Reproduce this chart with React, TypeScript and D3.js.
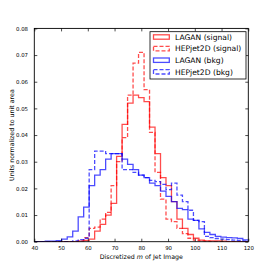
import { useRef, useEffect } from "react";
import * as d3 from "d3";

// 39 equal bins between 40 and 120
const binEdges = [
  40, 42.05, 44.1, 46.15, 48.21, 50.26, 52.31, 54.36, 56.41, 58.46, 60.51,
  62.56, 64.62, 66.67, 68.72, 70.77, 72.82, 74.87, 76.92, 78.97, 81.03, 83.08,
  85.13, 87.18, 89.23, 91.28, 93.33, 95.38, 97.44, 99.49, 101.54, 103.59,
  105.64, 107.69, 109.74, 111.79, 113.85, 115.9, 117.95, 120,
];

const laganSignal = [
  0, 0, 0, 0, 0, 0, 0, 0, 0.0002, 0.0005,
  0.001, 0.004, 0.0065, 0.01, 0.0144, 0.032, 0.044, 0.052, 0.055, 0.054,
  0.0525, 0.043, 0.033, 0.024, 0.021, 0.015, 0.0085, 0.005, 0.0027, 0.0013,
  0.0006, 0.0003, 0.0003, 0.0003, 0.0002, 0, 0, 0, 0,
];
const hepSignal = [
  0, 0, 0, 0, 0, 0, 0, 0, 0.0003, 0.0015,
  0.005, 0.0055, 0.0085, 0.011, 0.021, 0.03, 0.039, 0.055, 0.067, 0.071,
  0.057, 0.041, 0.026, 0.016, 0.0085, 0.0075, 0.005, 0.003, 0.0013, 0.0006,
  0.0003, 0.0002, 0, 0, 0, 0, 0, 0, 0,
];
const laganBkg = [
  0, 0, 0.0002, 0.0002, 0.0004, 0.001, 0.0018, 0.004, 0.0093, 0.013,
  0.021, 0.025, 0.027, 0.031, 0.033, 0.033, 0.031, 0.029, 0.027, 0.025,
  0.024, 0.022, 0.021, 0.019, 0.017, 0.015, 0.0125, 0.012, 0.0085, 0.008,
  0.0048, 0.0035, 0.0027, 0.002, 0.0017, 0.0015, 0.0014, 0.0012, 0.0007,
];
const hepBkg = [
  0, 0, 0, 0, 0, 0, 0, 0.0003, 0.0008, 0.0013,
  0.027, 0.034, 0.034, 0.033, 0.033, 0.033, 0.027, 0.027, 0.026, 0.025,
  0.024, 0.023, 0.0225, 0.0215, 0.0195, 0.022, 0.0175, 0.015, 0.0118, 0.008,
  0.0075, 0.002, 0.0015, 0.0012, 0.001, 0.0008, 0.0006, 0.0004, 0.0002,
];

const seriesNames = [
  "LAGAN (signal)",
  "HEPjet2D (signal)",
  "LAGAN (bkg)",
  "HEPjet2D (bkg)",
];
const xTicks = [40, 50, 60, 70, 80, 90, 100, 110, 120];
const yTicks = [0, 0.01, 0.02, 0.03, 0.04, 0.05, 0.06, 0.07, 0.08];

const W = 277;
const H = 277;
const FONT = "DejaVu Sans, sans-serif";

export default function App() {
  const ref = useRef<SVGSVGElement>(null);

  useEffect(() => {
    const svg = d3.select(ref.current);
    svg.selectAll("*").remove();

    const left = 34.3;
    const right = 248.3;
    const top = 28.4;
    const bottom = 241.7;

    const x = d3.scaleLinear().domain([40, 120]).range([left, right]);
    const y = d3.scaleLinear().domain([0, 0.08]).range([bottom, top]);

    svg.append("rect").attr("width", W).attr("height", H).attr("fill", "#fff");

    // histograms (step outlines)
    const series = [
      { values: laganSignal, color: "#ff0000", dash: null },
      { values: hepSignal, color: "#ff0000", dash: "4,2" },
      { values: laganBkg, color: "#0000ff", dash: null },
      { values: hepBkg, color: "#0000ff", dash: "4,2" },
    ];

    svg
      .append("clipPath")
      .attr("id", "plot-clip")
      .append("rect")
      .attr("x", left)
      .attr("y", top)
      .attr("width", right - left)
      .attr("height", bottom - top);

    const line = d3
      .line<[number, number]>()
      .x((d) => x(d[0]))
      .y((d) => y(d[1]));

    const plot = svg.append("g").attr("clip-path", "url(#plot-clip)");
    series.forEach((s) => {
      const pts: [number, number][] = [[binEdges[0], 0]];
      s.values.forEach((v, i) => {
        pts.push([binEdges[i], v]);
        pts.push([binEdges[i + 1], v]);
      });
      pts.push([binEdges[binEdges.length - 1], 0]);
      plot
        .append("path")
        .attr("d", line(pts))
        .attr("fill", "none")
        .attr("stroke", s.color)
        .attr("stroke-opacity", 0.7)
        .attr("stroke-width", 1.3)
        .attr("stroke-dasharray", s.dash);
    });

    // axes, ticks pointing inward
    const tickFont = (g: any) =>
      g
        .selectAll("text")
        .attr("font-family", FONT)
        .attr("font-size", 5.4)
        .attr("fill", "#000");
    const tidy = (g: any) => {
      g.select(".domain").remove();
      g.selectAll("line").attr("stroke", "#000").attr("stroke-width", 0.7);
    };

    svg
      .append("g")
      .attr("transform", `translate(0,${bottom})`)
      .call(
        d3.axisBottom(x).tickValues(xTicks).tickSize(-3).tickPadding(4).tickFormat(d3.format("d"))
      )
      .call(tidy)
      .call(tickFont);
    svg
      .append("g")
      .attr("transform", `translate(0,${top})`)
      .call(d3.axisTop(x).tickValues(xTicks).tickSize(-3).tickFormat(() => ""))
      .call(tidy);
    svg
      .append("g")
      .attr("transform", `translate(${left},0)`)
      .call(
        d3.axisLeft(y).tickValues(yTicks).tickSize(-3).tickPadding(6.3).tickFormat(d3.format(".2f"))
      )
      .call(tidy)
      .call(tickFont);
    svg
      .append("g")
      .attr("transform", `translate(${right},0)`)
      .call(d3.axisRight(y).tickValues(yTicks).tickSize(-3).tickFormat(() => ""))
      .call(tidy);

    svg
      .append("rect")
      .attr("x", left)
      .attr("y", top)
      .attr("width", right - left)
      .attr("height", bottom - top)
      .attr("fill", "none")
      .attr("stroke", "#000")
      .attr("stroke-width", 0.9);

    // axis titles
    const xl = svg
      .append("text")
      .attr("x", (left + right) / 2)
      .attr("y", 259)
      .attr("text-anchor", "middle")
      .attr("font-family", FONT)
      .attr("font-size", 6.3)
      .attr("fill", "#000");
    xl.append("tspan").text("Discretized ");
    xl.append("tspan").attr("font-style", "italic").text("m");
    xl.append("tspan").text(" of Jet Image");

    svg
      .append("text")
      .attr("transform", `translate(13.5,${(top + bottom) / 2}) rotate(-90)`)
      .attr("text-anchor", "middle")
      .attr("font-family", FONT)
      .attr("font-size", 6.3)
      .attr("fill", "#000")
      .text("Units normalized to unit area");

    // legend
    const lg = svg.append("g");
    lg.append("rect")
      .attr("x", 150)
      .attr("y", 31.7)
      .attr("width", 96)
      .attr("height", 47.3)
      .attr("fill", "#fff")
      .attr("stroke", "#000")
      .attr("stroke-width", 0.8);
    seriesNames.forEach((name, i) => {
      const cy = 37 + i * 11.6;
      lg.append("rect")
        .attr("x", 153.5)
        .attr("y", cy - 2.2)
        .attr("width", 15.8)
        .attr("height", 4.4)
        .attr("fill", "none")
        .attr("stroke", series[i].color)
        .attr("stroke-opacity", 0.7)
        .attr("stroke-width", 1.3)
        .attr("stroke-dasharray", series[i].dash);
      lg.append("text")
        .attr("x", 175)
        .attr("y", cy + 2.7)
        .attr("font-family", FONT)
        .attr("font-size", 7.6)
        .attr("fill", "#000")
        .text(name);
    });
  }, []);

  return (
    <svg
      ref={ref}
      width={W}
      height={H}
      style={{ position: "fixed", left: 0, top: 0 }}
    />
  );
}
